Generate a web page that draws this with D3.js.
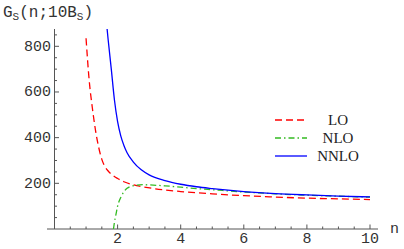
<!DOCTYPE html>
<html>
<head>
<meta charset="utf-8">
<script src="https://cdn.jsdelivr.net/npm/d3@7"></script>
<style>
  body { margin: 0; background: #fff; }
  svg { display: block; }
  .tick-label { font-family: "Liberation Mono", "DejaVu Sans Mono", monospace; font-size: 15px; fill: #333; }
  .legend-label { font-family: "Liberation Serif", serif; font-size: 15px; fill: #222; }
</style>
</head>
<body>
<svg class="chart" width="404" height="249"></svg>
<script>
// LO (dashed red)
const nLO = [1.0, 1.1, 1.2, 1.3, 1.4, 1.5, 1.6, 1.7, 1.8, 2.0, 2.2, 2.4, 2.6, 2.8, 3.2, 4, 5, 6, 7, 8, 9, 10];
const gLO = [835, 650, 530, 432, 358, 305, 273, 254, 240, 221, 207, 197, 190, 185, 176, 164, 154, 146, 140, 135, 132, 129];
// NLO (dot-dashed green)
const nNLO = [1.87, 1.9, 1.95, 2.0, 2.1, 2.2, 2.3, 2.4, 2.6, 2.8, 3.0, 3.5, 4, 4.5, 5, 6, 7, 8, 9, 10];
const gNLO = [0, 30, 65, 100, 138, 163, 178, 186, 192, 194, 193, 189, 183, 177, 172, 162, 154, 148, 143.5, 139.5];
// NNLO (solid blue)
const nNNLO = [1.65, 1.7, 1.8, 1.9, 2.0, 2.1, 2.2, 2.3, 2.5, 2.75, 3.0, 3.5, 4, 4.5, 5, 6, 7, 8, 9, 10];
const gNNLO = [900, 830, 700, 565, 470, 408, 366, 334, 293, 259, 237, 212, 196, 185, 177, 164, 155, 149, 144, 140.5];

const xTicks = [2, 4, 6, 8, 10];
const yTicks = [200, 400, 600, 800];
const legendNames = ["LO", "NLO", "NNLO"];

let svg = d3.select("svg.chart");

let xScale = d3.scaleLinear().domain([0, 10]).range([54.5, 370]);
let yScale = d3.scaleLinear().domain([0, 800]).range([229, 46.3]);

// clip to plot range
svg.append("defs").append("clipPath")
    .attr("id", "plotclip")
    .append("rect")
    .attr("x", 40).attr("y", 29)
    .attr("width", 345).attr("height", 200.5);

let axisColor = "#555";

// x axis line
svg.append("line")
    .attr("x1", 47).attr("x2", 378)
    .attr("y1", yScale(0)).attr("y2", yScale(0))
    .attr("stroke", axisColor).attr("stroke-width", 1);
// y axis line
svg.append("line")
    .attr("x1", xScale(0)).attr("x2", xScale(0))
    .attr("y1", 29).attr("y2", yScale(0))
    .attr("stroke", axisColor).attr("stroke-width", 1);

// x ticks (major + minor, pointing up)
let xMinor = d3.range(0.5, 10.01, 0.5);
svg.selectAll(".xtick")
    .data(xMinor)
    .join("line")
    .attr("class", "xtick")
    .attr("x1", d => xScale(d)).attr("x2", d => xScale(d))
    .attr("y1", yScale(0))
    .attr("y2", d => yScale(0) - (xTicks.includes(d) ? 4.5 : 2.5))
    .attr("stroke", axisColor);

svg.selectAll(".xlabel")
    .data(xTicks)
    .join("text")
    .attr("class", "tick-label xlabel")
    .attr("x", d => xScale(d))
    .attr("y", 243)
    .attr("text-anchor", "middle")
    .text(d => d);

// y ticks (major + minor, pointing right)
let yMinor = d3.range(50, 851, 50);
svg.selectAll(".ytick")
    .data(yMinor)
    .join("line")
    .attr("class", "ytick")
    .attr("x1", xScale(0))
    .attr("x2", d => xScale(0) + (yTicks.includes(d) ? 4.5 : 2.5))
    .attr("y1", d => yScale(d)).attr("y2", d => yScale(d))
    .attr("stroke", axisColor);

svg.selectAll(".ylabel")
    .data(yTicks)
    .join("text")
    .attr("class", "tick-label ylabel")
    .attr("x", 51)
    .attr("y", d => yScale(d) + 4.5)
    .attr("text-anchor", "end")
    .text(d => d);

// axis labels
let title = svg.append("text")
    .attr("class", "tick-label")
    .attr("x", 3)
    .attr("y", 17)
    .style("font-size", "16px");
title.append("tspan").text("G");
title.append("tspan").attr("dy", 3).style("font-size", "11px").text("S");
title.append("tspan").attr("dy", -3).text("(n;10B");
title.append("tspan").attr("dy", 3).style("font-size", "11px").text("S");
title.append("tspan").attr("dy", -3).text(")");

svg.append("text")
    .attr("class", "tick-label")
    .attr("x", 390)
    .attr("y", 233)
    .text("n");

// curves
let line = d3.line()
    .curve(d3.curveMonotoneX)
    .x(d => xScale(d[0]))
    .y(d => yScale(d[1]));

let series = [
    {name: "LO", pts: d3.zip(nLO, gLO), color: "#ff0000", dash: "7,4", width: 1.3},
    {name: "NLO", pts: d3.zip(nNLO, gNLO), color: "#33bb22", dash: "6,3,1.5,3", width: 1.3},
    {name: "NNLO", pts: d3.zip(nNNLO, gNNLO), color: "#0000ff", dash: null, width: 1.3}
];

let plot = svg.append("g").attr("clip-path", "url(#plotclip)");
plot.selectAll("path")
    .data(series)
    .join("path")
    .attr("fill", "none")
    .attr("stroke", d => d.color)
    .attr("stroke-width", d => d.width)
    .attr("stroke-dasharray", d => d.dash)
    .attr("d", d => line(d.pts));

// legend
let legend = svg.append("g").attr("class", "legend");
let legY = [120, 138, 156];
legend.selectAll("line")
    .data(series)
    .join("line")
    .attr("x1", 275).attr("x2", 307)
    .attr("y1", (d, i) => legY[i]).attr("y2", (d, i) => legY[i])
    .attr("stroke", d => d.color)
    .attr("stroke-width", d => d.width)
    .attr("stroke-dasharray", d => d.dash);
legend.selectAll("text")
    .data(legendNames)
    .join("text")
    .attr("class", "legend-label")
    .attr("x", 338)
    .attr("y", (d, i) => legY[i] + 5)
    .attr("text-anchor", "middle")
    .text(d => d);
</script>
</body>
</html>
